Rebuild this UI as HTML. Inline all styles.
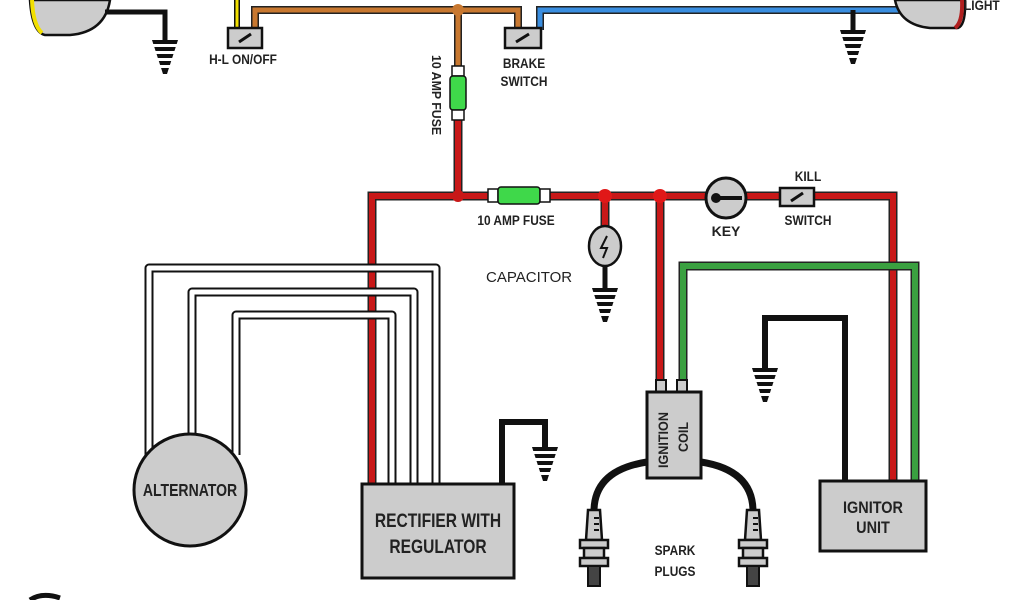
<!DOCTYPE html>
<html><head><style>
body{margin:0;background:#fff}
svg{display:block}
text{font-family:"Liberation Sans Narrow","Liberation Sans",sans-serif;font-weight:bold;fill:#222}
</style></head><body>
<svg width="1024" height="600" viewBox="0 0 1024 600" xmlns="http://www.w3.org/2000/svg">
<defs>
<g id="gnd">
<path d="M-13,0 H13 L2,34 H-2 Z" fill="#111"/>
<rect x="-14" y="4" width="28" height="3" fill="#fff"/>
<rect x="-14" y="11" width="28" height="3" fill="#fff"/>
<rect x="-14" y="18" width="28" height="3" fill="#fff"/>
<rect x="-14" y="25" width="28" height="3" fill="#fff"/>
</g>
<g id="plug">
<path d="M-6,0 L6,0 L8,30 L-8,30 Z" fill="#ccc" stroke="#111" stroke-width="2.5"/>
<path d="M0,8 h5 M0,14 h5 M0,20 h5" stroke="#111" stroke-width="2"/>
<rect x="-14" y="30" width="28" height="8" fill="#ccc" stroke="#111" stroke-width="2.5"/>
<rect x="-10" y="38" width="20" height="10" fill="#ccc" stroke="#111" stroke-width="2.5"/>
<rect x="-14" y="48" width="28" height="8" fill="#ccc" stroke="#111" stroke-width="2.5"/>
<rect x="-6" y="56" width="12" height="20" fill="#444" stroke="#111" stroke-width="2"/>
</g>
</defs>

<path d="M30,0 L110,0 Q105,32 70,35 L45,35 Q32,32 30,0 Z" fill="#ccc" stroke="#111" stroke-width="2.5"/>
<path d="M32,0 Q33,25 42,33" fill="none" stroke="#f2e000" stroke-width="4"/>
<path d="M105,12 H165 V42" fill="none" stroke="#111" stroke-width="5"/>
<use href="#gnd" x="165" y="40"/>

<path d="M237,0 V30" stroke="#111" stroke-width="6"/><path d="M237,0 V30" stroke="#f2e000" stroke-width="3"/>
<path d="M255,30 V10 H518 V30" fill="none" stroke="#222" stroke-width="8"/>
<path d="M255,30 V10 H518 V30" fill="none" stroke="#c87830" stroke-width="5"/>
<path d="M458,10 V70" stroke="#222" stroke-width="8"/><path d="M458,10 V70" stroke="#c87830" stroke-width="5"/>
<circle cx="458" cy="10" r="6" fill="#c87830"/>
<rect x="228" y="28" width="34" height="20" fill="#ccc" stroke="#111" stroke-width="2.5"/>
<line x1="239" y1="42" x2="251" y2="34" stroke="#111" stroke-width="3"/>
<text x="243" y="64" font-size="14" text-anchor="middle" transform="translate(243,0) scale(0.85,1) translate(-243,0)">H-L ON/OFF</text>

<path d="M540,30 V10 H900" fill="none" stroke="#222" stroke-width="8"/>
<path d="M540,30 V10 H900" fill="none" stroke="#3a8ee0" stroke-width="5"/>
<rect x="505" y="28" width="36" height="20" fill="#ccc" stroke="#111" stroke-width="2.5"/>
<line x1="516" y1="42" x2="529" y2="34" stroke="#111" stroke-width="3"/>
<g transform="translate(524,0) scale(0.85,1) translate(-524,0)">
<text x="524" y="68" font-size="14" text-anchor="middle">BRAKE</text>
<text x="524" y="86" font-size="14" text-anchor="middle">SWITCH</text>
</g>
<path d="M853,10 V32" stroke="#111" stroke-width="5"/>
<use href="#gnd" x="853" y="30"/>

<path d="M895,0 H965 Q966,25 958,28 H930 Q900,25 895,0 Z" fill="#ccc" stroke="#111" stroke-width="2.5"/>
<path d="M962,0 Q963,22 955,28" fill="none" stroke="#b02020" stroke-width="4"/>
<text x="964" y="10" font-size="14" transform="translate(964,0) scale(0.85,1) translate(-964,0)">LIGHT</text>

<g fill="none" stroke="#222" stroke-width="9">
<path d="M458,120 V196"/>
<path d="M372,485 V196 H893 V480"/>
<path d="M605,196 V230"/>
<path d="M660,196 V385"/>
</g>
<g fill="none" stroke="#c81818" stroke-width="6">
<path d="M458,120 V196"/>
<path d="M372,485 V196 H893 V480"/>
<path d="M605,196 V230"/>
<path d="M660,196 V385"/>
</g>
<circle cx="458" cy="196" r="6" fill="#c81818"/>
<circle cx="605" cy="196" r="7" fill="#e01818"/>
<circle cx="660" cy="196" r="7" fill="#e01818"/>
<rect x="452" y="66" width="12" height="10" fill="#fff" stroke="#111" stroke-width="1.5"/>
<rect x="450" y="76" width="16" height="34" rx="3" fill="#3fd84a" stroke="#111" stroke-width="1.5"/>
<rect x="452" y="110" width="12" height="10" fill="#fff" stroke="#111" stroke-width="1.5"/>
<text transform="translate(432,55) rotate(90) scale(0.95,1)" font-size="13">10 AMP FUSE</text>
<rect x="488" y="189" width="10" height="13" fill="#fff" stroke="#111" stroke-width="1.5"/>
<rect x="498" y="187" width="42" height="17" rx="3" fill="#3fd84a" stroke="#111" stroke-width="1.5"/>
<rect x="540" y="189" width="10" height="13" fill="#fff" stroke="#111" stroke-width="1.5"/>
<text x="516" y="225" font-size="14" text-anchor="middle" transform="translate(516,0) scale(0.85,1) translate(-516,0)">10 AMP FUSE</text>
<ellipse cx="605" cy="246" rx="16" ry="20" fill="#ccc" stroke="#111" stroke-width="2.5"/>
<path d="M607,236 L601,248 H607 L603,258" fill="none" stroke="#111" stroke-width="2"/>
<path d="M605,266 V290" stroke="#111" stroke-width="5"/>
<use href="#gnd" x="605" y="288"/>
<text x="486" y="282" font-size="15" style="font-weight:normal">CAPACITOR</text>
<circle cx="726" cy="198" r="20" fill="#ccc" stroke="#111" stroke-width="3"/>
<path d="M712,198 H742" stroke="#111" stroke-width="4"/><circle cx="716" cy="198" r="5" fill="#111"/>
<text x="726" y="236" font-size="14" text-anchor="middle">KEY</text>
<rect x="780" y="188" width="34" height="18" fill="#ccc" stroke="#111" stroke-width="2.5"/>
<line x1="791" y1="201" x2="803" y2="193" stroke="#111" stroke-width="3"/>
<g transform="translate(808,0) scale(0.85,1) translate(-808,0)">
<text x="808" y="181" font-size="14" text-anchor="middle">KILL</text>
<text x="808" y="225" font-size="14" text-anchor="middle">SWITCH</text>
</g>

<path d="M683,388 V266 H915 V480" fill="none" stroke="#222" stroke-width="9"/>
<path d="M683,388 V266 H915 V480" fill="none" stroke="#3aa040" stroke-width="6"/>

<path d="M845,482 V318 H765 V370" fill="none" stroke="#111" stroke-width="6"/>
<use href="#gnd" x="765" y="368"/>

<rect x="656" y="380" width="10" height="12" fill="#ccc" stroke="#111" stroke-width="2"/>
<rect x="677" y="380" width="10" height="12" fill="#ccc" stroke="#111" stroke-width="2"/>
<rect x="647" y="392" width="54" height="86" fill="#ccc" stroke="#111" stroke-width="3"/>
<text transform="translate(668,468) rotate(-90) scale(0.9,1)" font-size="14">IGNITION</text>
<text transform="translate(688,452) rotate(-90) scale(0.9,1)" font-size="14">COIL</text>
<path d="M647,462 Q595,470 594,510" fill="none" stroke="#111" stroke-width="7"/>
<path d="M701,462 Q752,470 753,510" fill="none" stroke="#111" stroke-width="7"/>
<use href="#plug" x="594" y="510"/>
<use href="#plug" x="753" y="510"/>
<g transform="translate(675,0) scale(0.85,1) translate(-675,0)">
<text x="675" y="555" font-size="14" text-anchor="middle">SPARK</text>
<text x="675" y="576" font-size="14" text-anchor="middle">PLUGS</text>
</g>

<rect x="820" y="481" width="106" height="70" fill="#ccc" stroke="#111" stroke-width="3"/>
<g transform="translate(873,0) scale(0.85,1) translate(-873,0)">
<text x="873" y="513" font-size="17" text-anchor="middle">IGNITOR</text>
<text x="873" y="533" font-size="17" text-anchor="middle">UNIT</text>
</g>

<g fill="none" stroke="#111" stroke-width="9" stroke-linejoin="round">
<path d="M149,455 V268 H436 V485"/>
<path d="M192,435 V292 H414 V485"/>
<path d="M236,455 V315 H392 V485"/>
</g>
<g fill="none" stroke="#fff" stroke-width="5" stroke-linejoin="round">
<path d="M149,455 V268 H436 V485"/>
<path d="M192,435 V292 H414 V485"/>
<path d="M236,455 V315 H392 V485"/>
</g>
<circle cx="190" cy="490" r="56" fill="#ccc" stroke="#111" stroke-width="3"/>
<text x="190" y="496" font-size="18" text-anchor="middle" transform="translate(190,0) scale(0.78,1) translate(-190,0)">ALTERNATOR</text>

<path d="M502,485 V422 H545 V448" fill="none" stroke="#111" stroke-width="6"/>
<use href="#gnd" x="545" y="447"/>
<rect x="362" y="484" width="152" height="94" fill="#ccc" stroke="#111" stroke-width="3"/>
<g transform="translate(438,0) scale(0.82,1) translate(-438,0)">
<text x="438" y="527" font-size="19" text-anchor="middle">RECTIFIER WITH</text>
<text x="438" y="553" font-size="19" text-anchor="middle">REGULATOR</text>
</g>

<path d="M30,600 Q42,592 60,598" fill="none" stroke="#111" stroke-width="5"/>
</svg>
</body></html>
